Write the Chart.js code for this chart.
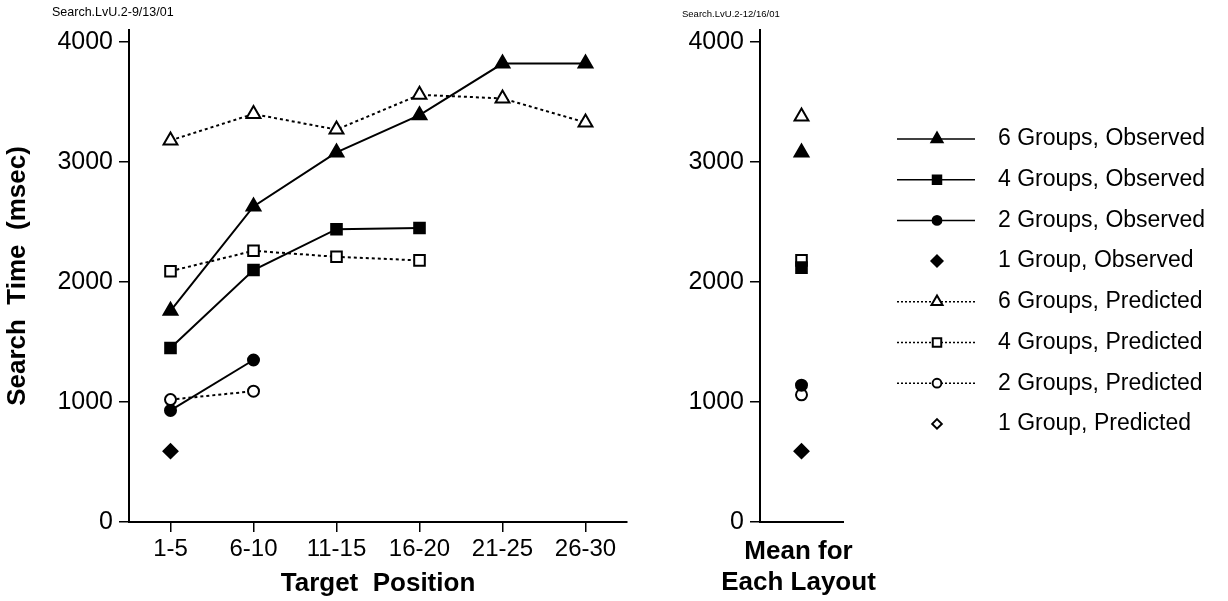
<!DOCTYPE html>
<html>
<head>
<meta charset="utf-8">
<title>Search time by target position</title>
<script src="https://cdn.jsdelivr.net/npm/chart.js@4/dist/chart.umd.min.js"></script>
<style>
body { margin: 0; background: #fff; }
#wrap { position: relative; width: 1228px; height: 601px; font-family: 'Liberation Sans', Arial, sans-serif; }
canvas { position: absolute; top: 0; }
.note { position: absolute; color: #000; white-space: nowrap; }
</style>
</head>
<body>
<div id="wrap">
  <canvas id="posChart" width="640" height="601" style="left:0"></canvas>
  <canvas id="meanChart" width="588" height="601" style="left:640px"></canvas>
  <div class="note" style="left:52px;top:5px;font-size:12.5px">Search.LvU.2-9/13/01</div>
  <div class="note" style="left:682px;top:8px;font-size:9.5px">Search.LvU.2-12/16/01</div>
</div>
<script>
// categories
var positions = ['1-5', '6-10', '11-15', '16-20', '21-25', '26-30'];

// observed search times (msec) by target position
var obs6 = [1760, 2630, 3080, 3390, 3820, 3820];
var obs4 = [1450, 2100, 2440, 2450, null, null];
var obs2 = [930, 1350, null, null, null, null];
var obs1 = [590, null, null, null, null, null];

// predicted search times (msec)
var pred6 = [3180, 3400, 3270, 3560, 3530, 3330];
var pred4 = [2090, 2260, 2210, 2180, null, null];
var pred2 = [1020, 1090, null, null, null, null];
var pred1 = [590, null, null, null, null, null];

// means for each layout: 6, 4, 2, 1 groups
var meanObs = [3080, 2120, 1140, 590];
var meanPred = [3380, 2180, 1060, 590];

var yTicks = [0, 1000, 2000, 3000, 4000];
var meanTitle = ['Mean for', 'Each Layout'];

Chart.defaults.font.family = "'Liberation Sans', Arial, sans-serif";
Chart.defaults.color = '#000';

// name, data, marker, filled, dotted line, radius, joined, index into means
var series = [
  ['6 Groups, Observed', obs6, 'triangle', true, false, 8, true, 0],
  ['4 Groups, Observed', obs4, 'rect', true, false, 7.5, true, 1],
  ['2 Groups, Observed', obs2, 'circle', true, false, 5.5, true, 2],
  ['1 Group, Observed', obs1, 'rectRot', true, false, 7, false, 3],
  ['6 Groups, Predicted', pred6, 'triangle', false, true, 8, true, 0],
  ['4 Groups, Predicted', pred4, 'rect', false, true, 7.5, true, 1],
  ['2 Groups, Predicted', pred2, 'circle', false, true, 5.5, true, 2],
  ['1 Group, Predicted', pred1, 'rectRot', false, true, 6, false, 3]
];

function makeSet(s, data, joined) {
  return {
    label: s[0],
    data: data,
    pointStyle: s[2],
    pointRadius: s[5],
    pointHoverRadius: s[5],
    pointBackgroundColor: s[3] ? '#000' : '#fff',
    pointBorderColor: '#000',
    pointBorderWidth: 2,
    borderColor: '#000',
    borderWidth: 2,
    borderDash: s[4] ? [3, 3] : [],
    showLine: joined,
    fill: false,
    tension: 0,
    clip: false,
    keyLine: s[6],
    keyDotted: s[4]
  };
}

function yScale(withTitle, w) {
  return {
    min: 0,
    max: 4100,
    afterBuildTicks: function (sc) {
      sc.ticks = yTicks.map(function (v) { return { value: v }; });
    },
    afterFit: function (sc) { sc.width = w; },
    ticks: {
      font: { size: 25 }, color: '#000', padding: 6,
      callback: function (v) { return String(v); }
    },
    grid: { drawOnChartArea: false, tickLength: 10, color: '#000', lineWidth: 1.5 },
    border: { color: '#000', width: 2 },
    title: {
      display: withTitle,
      text: 'Search  Time  (msec)',
      font: { size: 26, weight: 'bold' },
      color: '#000',
      padding: { top: 2, bottom: 4 }
    }
  };
}

function drawMarker(ctx, style, r, x, y) {
  ctx.beginPath();
  if (style === 'triangle') {
    ctx.moveTo(x, y - r);
    ctx.lineTo(x + r * 0.866, y + r * 0.5);
    ctx.lineTo(x - r * 0.866, y + r * 0.5);
    ctx.closePath();
  } else if (style === 'rect') {
    var h = r * Math.SQRT1_2;
    ctx.rect(x - h, y - h, 2 * h, 2 * h);
  } else if (style === 'rectRot') {
    ctx.moveTo(x, y - r);
    ctx.lineTo(x + r, y);
    ctx.lineTo(x, y + r);
    ctx.lineTo(x - r, y);
    ctx.closePath();
  } else {
    ctx.arc(x, y, r, 0, Math.PI * 2);
  }
  ctx.fill();
  ctx.stroke();
}

// key at the right of the mean chart, plus the two-line axis title
var sideKey = {
  id: 'sideKey',
  afterDraw: function (chart) {
    var ctx = chart.ctx;
    chart.data.datasets.forEach(function (ds, i) {
      var y = 139 + i * 40.7;
      ctx.save();
      ctx.strokeStyle = '#000';
      if (ds.keyLine) {
        ctx.lineWidth = 1.5;
        ctx.setLineDash(ds.keyDotted ? [2, 2] : []);
        ctx.beginPath();
        ctx.moveTo(257, y);
        ctx.lineTo(335, y);
        ctx.stroke();
      }
      ctx.setLineDash([]);
      ctx.lineWidth = ds.pointBorderWidth;
      ctx.fillStyle = ds.pointBackgroundColor;
      drawMarker(ctx, ds.pointStyle, ds.pointRadius * 0.8, 297, y);
      ctx.fillStyle = '#000';
      ctx.font = "23px 'Liberation Sans', Arial, sans-serif";
      ctx.textAlign = 'left';
      ctx.textBaseline = 'middle';
      ctx.fillText(ds.label, 358, y);
      ctx.restore();
    });

    var area = chart.chartArea;
    var cx = (area.left + area.right) / 2;
    ctx.save();
    ctx.fillStyle = '#000';
    ctx.font = "bold 26px 'Liberation Sans', Arial, sans-serif";
    ctx.textAlign = 'center';
    ctx.textBaseline = 'middle';
    meanTitle.forEach(function (line, i) {
      ctx.fillText(line, cx - 3, 552 + i * 31);
    });
    ctx.restore();
  }
};

new Chart(document.getElementById('posChart'), {
  type: 'line',
  data: {
    labels: positions,
    datasets: series.map(function (s) { return makeSet(s, s[1], s[6]); })
  },
  options: {
    responsive: false,
    animation: false,
    devicePixelRatio: 1,
    layout: { padding: { top: 30, right: 13, left: 0, bottom: 0 } },
    plugins: { legend: { display: false }, tooltip: { enabled: false } },
    scales: {
      x: {
        offset: true,
        afterFit: function (sc) { sc.height = 79; },
        ticks: { font: { size: 24 }, color: '#000', padding: 3, maxRotation: 0 },
        grid: { drawOnChartArea: false, offset: false, tickLength: 10, color: '#000', lineWidth: 1.5 },
        border: { color: '#000', width: 2 },
        title: {
          display: true,
          text: 'Target  Position',
          font: { size: 26, weight: 'bold' },
          color: '#000',
          padding: { top: 0, bottom: 2 }
        }
      },
      y: yScale(true, 129)
    }
  }
});

new Chart(document.getElementById('meanChart'), {
  type: 'line',
  data: {
    labels: [''],
    datasets: series.map(function (s) {
      var m = s[3] ? meanObs : meanPred;
      return makeSet(s, [m[s[7]]], false);
    })
  },
  options: {
    responsive: false,
    animation: false,
    devicePixelRatio: 1,
    layout: { padding: { top: 30, right: 385, left: 0, bottom: 0 } },
    plugins: { legend: { display: false }, tooltip: { enabled: false } },
    scales: {
      x: {
        offset: true,
        afterFit: function (sc) { sc.height = 79; },
        ticks: { display: false },
        grid: { drawOnChartArea: false, drawTicks: false, tickLength: 0, color: '#000' },
        border: { color: '#000', width: 2 }
      },
      y: yScale(false, 120)
    }
  },
  plugins: [sideKey]
});
</script>
</body>
</html>
